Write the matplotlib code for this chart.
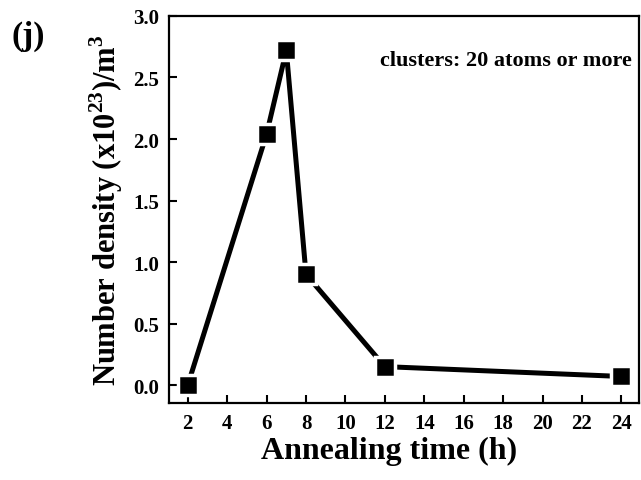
import matplotlib
matplotlib.use("Agg")
import matplotlib.pyplot as plt

time_h = [2, 6, 7, 8, 12, 24]
density = [0.0, 2.04, 2.72, 0.90, 0.15, 0.07]
xticks = [2, 4, 6, 8, 10, 12, 14, 16, 18, 20, 22, 24]
yticks = [0.0, 0.5, 1.0, 1.5, 2.0, 2.5, 3.0]

plt.rcParams['font.family'] = ['Liberation Serif', 'DejaVu Serif']
plt.rcParams['font.weight'] = 'bold'
plt.rcParams['mathtext.fontset'] = 'custom'
plt.rcParams['mathtext.rm'] = 'Liberation Serif:bold'
plt.rcParams['mathtext.bf'] = 'Liberation Serif:bold'

fig = plt.figure(figsize=(6.41, 4.81), dpi=100)
ax = fig.add_axes([0.2637, 0.16, 0.997 - 0.2637, 0.9647 - 0.16])

ax.plot(time_h, density, color='black', lw=3.6, marker='s', markersize=14,
        markerfacecolor='black', markeredgecolor='white', markeredgewidth=2.5)

ax.set_xlim(1.05, 24.9)
ax.set_ylim(-0.146, 3.0)
ax.set_xticks(xticks)
ax.set_yticks(yticks)
ax.set_yticklabels([f"{v:.1f}" for v in yticks])
ax.tick_params(direction='in', length=6, width=1.5, labelsize=15, pad=7)
for lab in ax.get_xticklabels() + ax.get_yticklabels():
    lab.set_fontweight('bold')
for s in ax.spines.values():
    s.set_linewidth(1.6)

ax.set_xlabel('Annealing time (h)', fontsize=23, fontweight='bold', labelpad=4)
ax.xaxis.set_label_coords(0.468, -0.085)
ax.set_ylabel(r'Number density (x10$^{\mathbf{23}}$)/m$^{\mathbf{3}}$', fontsize=22,
              fontweight='bold', labelpad=6)

ax.text(0.985, 0.887, 'clusters: 20 atoms or more', transform=ax.transAxes,
        ha='right', va='center', fontsize=16, fontweight='bold')
fig.text(0.018, 0.925, '(j)', fontsize=24, fontweight='bold', ha='left', va='center')

fig.savefig('out.png', dpi=100)
